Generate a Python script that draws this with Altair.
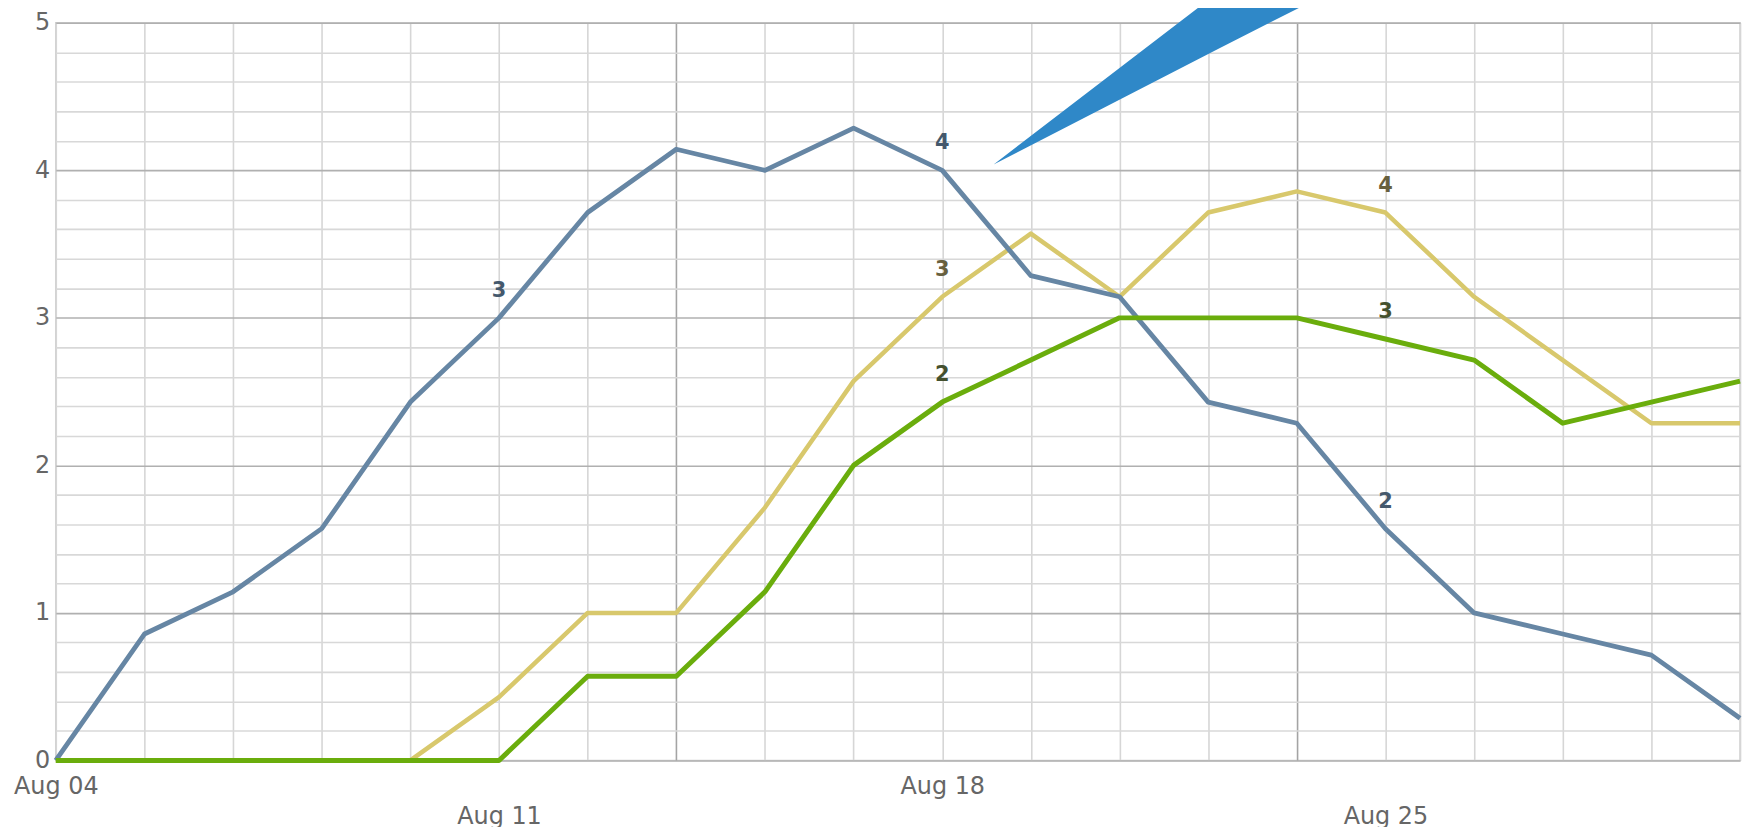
import altair as alt
import pandas as pd

# ---- data (7-day style averages) ----
x_index = list(range(20))
blue_values = [0.0, 0.857, 1.143, 1.571, 2.429, 3.0, 3.714, 4.143, 4.0, 4.286,
               4.0, 3.286, 3.143, 2.429, 2.286, 1.571, 1.0, 0.857, 0.714, 0.286]
yellow_values = [0.0, 0.0, 0.0, 0.0, 0.0, 0.429, 1.0, 1.0, 1.714, 2.571,
                 3.143, 3.571, 3.143, 3.714, 3.857, 3.714, 3.143, 2.714, 2.286, 2.286]
green_values = [0.0, 0.0, 0.0, 0.0, 0.0, 0.0, 0.571, 0.571, 1.143, 2.0,
                2.429, 2.714, 3.0, 3.0, 3.0, 2.857, 2.714, 2.286, 2.429, 2.571]

x_tick_positions = [0, 5, 10, 15]
x_tick_texts = ["Aug 04", "Aug 11", "Aug 18", "Aug 25"]
x_major_lines = [7, 14]
label_positions = [5, 10, 15]

# blue callout wedge (data units)
callout_x = [10.58, 13.1, 14.35]
callout_top = [4.04, 5.2, 5.2]
callout_bottom = [4.04, 4.82, 5.2]

series = [
    ("blue", blue_values, "#6686a4", "#44586c", 4.8),
    ("yellow", yellow_values, "#d8c86c", "#67603e", 4.5),
    ("green", green_values, "#6aad0c", "#44502e", 5.0),
]

# ---- axes ----
label_expr = " : ".join(
    f"datum.value == {p} ? '{t}'" for p, t in zip(x_tick_positions, x_tick_texts)
) + " : ''"
low_row = " || ".join(f"datum.value == {p}" for p in x_tick_positions[1::2])
major_test = " || ".join(f"datum.value == {p}" for p in x_major_lines)

x_axis = alt.Axis(
    values=x_index,
    tickCount=40,
    labelExpr=label_expr,
    grid=True,
    gridColor={"condition": {"test": major_test, "value": "#a4a4a4"}, "value": "#d6d6d6"},
    gridWidth=1.6,
    ticks=False,
    domain=False,
    labelPadding={"condition": {"test": low_row, "value": 44}, "value": 14},
    labelFont="DejaVu Sans",
    labelFontSize=24,
    labelColor="#666666",
    labelOverlap=False,
    labelFlush=False,
    title=None,
)

y_vals = [round(i * 0.2, 1) for i in range(26)]
int_test = "abs(datum.value - round(datum.value)) < 0.001"
y_axis = alt.Axis(
    values=y_vals,
    tickCount=40,
    labelExpr=f"{int_test} ? format(datum.value, 'd') : ''",
    grid=True,
    gridColor={"condition": {"test": int_test, "value": "#b0b0b0"}, "value": "#d8d8d8"},
    gridWidth=1.6,
    ticks=False,
    domain=False,
    labelPadding=6,
    labelFont="DejaVu Sans",
    labelFontSize=24,
    labelColor="#666666",
    labelOverlap=False,
    title=None,
)

xs = alt.Scale(domain=[0, 19], nice=False, zero=False)
ys = alt.Scale(domain=[0, 5], nice=False)

layers = []

callout_df = pd.DataFrame({"x": callout_x, "top": callout_top, "bottom": callout_bottom})
layers.append(
    alt.Chart(callout_df).mark_area(color="#2f88c8", clip=False, opacity=1).encode(
        x=alt.X("x:Q", scale=xs, axis=x_axis),
        y=alt.Y("top:Q", scale=ys, axis=y_axis),
        y2="bottom:Q",
    )
)

for name, vals, col, lcol, w in [series[1], series[0], series[2]]:
    df = pd.DataFrame({"x": x_index, "v": vals})
    layers.append(
        alt.Chart(df).mark_line(color=col, strokeWidth=w, strokeJoin="round").encode(
            x=alt.X("x:Q", scale=xs, axis=x_axis), y=alt.Y("v:Q", scale=ys, axis=y_axis)
        )
    )

for name, vals, col, lcol, w in series:
    df = pd.DataFrame({"x": x_index, "v": vals})
    layers.append(
        alt.Chart(df).transform_filter(
            alt.FieldOneOfPredicate(field="x", oneOf=label_positions)
        ).transform_calculate(
            lab="round(datum.v)"
        ).transform_filter("datum.lab > 0").mark_text(
            color=lcol, font="DejaVu Sans", fontSize=21, fontWeight="bold", dy=-27
        ).encode(
            x=alt.X("x:Q", scale=xs, axis=x_axis), y=alt.Y("v:Q", scale=ys, axis=y_axis),
            text="lab:Q"
        )
    )

chart = alt.layer(*layers).properties(
    width=1692,
    height=741,
    autosize=alt.AutoSizeParams(type="none"),
    padding={"left": 48, "top": 13, "right": 6, "bottom": 70},
    background="white",
).configure_view(stroke="#cfcfcf", strokeWidth=1.5)

chart.save("out.html", embed_options={"renderer": "svg", "actions": False})
